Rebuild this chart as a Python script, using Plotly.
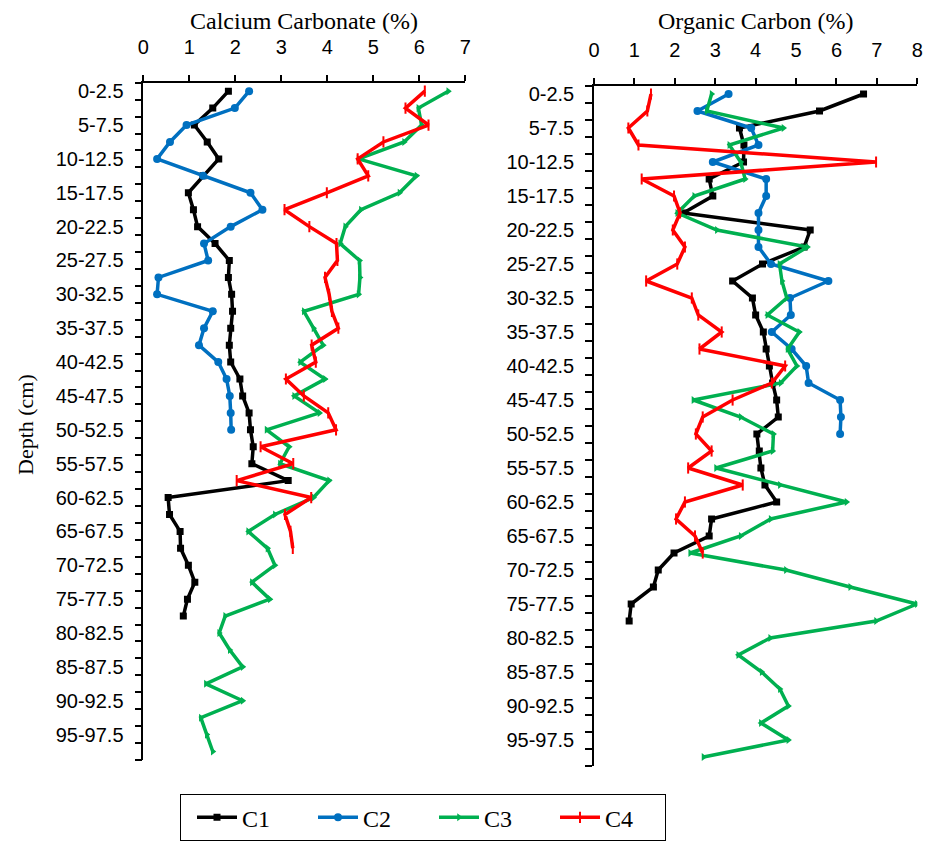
import plotly.graph_objects as go

depths = [f"{a:g}-{a + 2.5:g}" for a in [i * 2.5 for i in range(40)]]
depth_ticktext = [d if i % 2 == 0 else "" for i, d in enumerate(depths)]

# Calcium carbonate (%)
caco3_c1 = [1.85, 1.51, 1.11, 1.39, 1.64, 1.30, 0.98, 1.09, 1.18, 1.56, 1.87, 1.85, 1.92,
            1.94, 1.90, 1.87, 1.90, 2.10, 2.16, 2.30, 2.33, 2.39, 2.36, 3.15, 0.54, 0.57,
            0.80, 0.81, 0.98, 1.12, 0.96, 0.87]
caco3_c2 = [2.30, 1.99, 0.94, 0.58, 0.30, 1.30, 2.33, 2.59, 1.90, 1.32, 1.41, 0.33, 0.30,
            1.51, 1.32, 1.21, 1.63, 1.81, 1.88, 1.90, 1.91]
caco3_c3 = [6.63, 5.98, 6.05, 5.67, 4.68, 5.94, 5.57, 4.73, 4.39, 4.28, 4.70, 4.71, 4.68,
            3.49, 3.70, 3.91, 3.41, 3.95, 3.28, 3.83, 2.68, 3.17, 2.97, 4.04, 3.70, 2.86,
            2.28, 2.70, 2.86, 2.36, 2.75, 1.78, 1.65, 1.88, 2.16, 1.36, 2.16, 1.25, 1.38, 1.51]
caco3_c4 = [6.12, 5.70, 6.20, 5.22, 4.66, 4.89, 3.99, 3.07, 3.61, 4.20, 4.22, 3.95, 4.04,
            4.10, 4.24, 3.66, 3.75, 3.10, 3.49, 4.02, 4.19, 2.55, 3.26, 2.03, 3.65, 3.08,
            3.20, 3.25]

# Organic carbon (%)
oc_c1 = [6.67, 5.58, 3.60, 3.71, 3.70, 2.85, 2.94, 2.21, 5.35, 5.20, 4.17, 3.43, 3.92,
         4.00, 4.19, 4.26, 4.34, 4.42, 4.52, 4.56, 4.03, 4.09, 4.13, 4.23, 4.52, 2.91,
         2.85, 1.98, 1.59, 1.47, 0.92, 0.87]
oc_c2 = [3.33, 2.56, 3.89, 4.07, 2.94, 4.26, 4.26, 4.07, 4.07, 4.07, 4.38, 5.80, 4.85,
         4.87, 4.40, 4.89, 5.25, 5.31, 6.09, 6.11, 6.09]
oc_c3 = [2.91, 2.79, 4.69, 3.35, 3.63, 3.74, 2.48, 2.06, 3.04, 5.28, 4.59, 4.65, 4.77,
         4.29, 5.08, 4.79, 5.02, 4.62, 2.46, 3.63, 4.44, 4.42, 3.02, 4.60, 6.25, 4.37,
         3.63, 2.38, 4.75, 6.34, 7.99, 6.98, 4.36, 3.57, 4.15, 4.60, 4.81, 4.13, 4.81, 2.71]
oc_c4 = [1.41, 1.32, 0.85, 1.10, 6.98, 1.18, 1.98, 2.13, 1.95, 2.25, 2.06, 1.29, 2.42,
         2.58, 3.16, 2.61, 4.73, 4.40, 3.43, 2.69, 2.52, 2.91, 2.33, 3.68, 2.25, 2.03,
         2.50, 2.69]

series_names = ["C1", "C2", "C3", "C4"]
colors = ["#000000", "#0070C0", "#00B050", "#FF0000"]
markers = [dict(symbol="square", size=7),
           dict(symbol="circle", size=8),
           dict(symbol="triangle-right", size=7),
           dict(symbol="line-ns", size=8, line=dict(width=2))]

# page body has an 8px default margin; figure sized to fit the window
OFF = 8
W, H = 931 - 2 * OFF, 849 - 2 * OFF


def px(x):
    return (x - OFF) / W


def py(y):
    return 1 - (y - OFF) / H


fig = go.Figure()

left_data = [caco3_c1, caco3_c2, caco3_c3, caco3_c4]
right_data = [oc_c1, oc_c2, oc_c3, oc_c4]

for name, col, mk, vals in zip(series_names, colors, markers, left_data):
    m = dict(mk, color=col)
    if "line" in m:
        m["line"] = dict(m["line"], color=col)
    fig.add_trace(go.Scatter(x=vals, y=depths[:len(vals)], mode="lines+markers", name=name,
                             line=dict(color=col, width=3.5), marker=m,
                             legendgroup=name, showlegend=True, xaxis="x", yaxis="y"))
for name, col, mk, vals in zip(series_names, colors, markers, right_data):
    m = dict(mk, color=col)
    if "line" in m:
        m["line"] = dict(m["line"], color=col)
    fig.add_trace(go.Scatter(x=vals, y=depths[:len(vals)], mode="lines+markers", name=name,
                             line=dict(color=col, width=3.5), marker=m,
                             legendgroup=name, showlegend=False, xaxis="x2", yaxis="y2"))

tickfont = dict(family="Liberation Sans", size=20, color="#000000")
xcommon = dict(side="top", ticks="outside", ticklen=6, tickwidth=1.5, tickcolor="#000",
               showline=True, linecolor="#000", linewidth=1.5, showgrid=False, zeroline=False,
               dtick=1, tick0=0, tickfont=tickfont, ticklabelstandoff=13, automargin=False)
ycommon = dict(type="category", categoryorder="array", categoryarray=depths,
               range=[39.5, -0.5], tickmode="array", tickvals=depths, ticktext=depth_ticktext,
               tickson="boundaries", ticks="outside", ticklen=7, tickwidth=1.5, tickcolor="#000",
               showline=True, linecolor="#000", linewidth=1.5, showgrid=False, zeroline=False,
               tickfont=tickfont, ticklabelstandoff=14, automargin=False)

fig.update_layout(
    width=W, height=H,
    margin=dict(l=0, r=0, t=0, b=0, autoexpand=False),
    paper_bgcolor="white", plot_bgcolor="white",
    xaxis=dict(xcommon, domain=[px(143.3), px(465.3)], range=[0, 7], anchor="y"),
    yaxis=dict(ycommon, domain=[py(760), py(82.7)], anchor="x"),
    xaxis2=dict(xcommon, domain=[px(594), px(917.3)], range=[0, 8], anchor="y2"),
    yaxis2=dict(ycommon, domain=[py(765.5), py(85.5)], anchor="x2"),
    legend=dict(orientation="h", x=px(180), y=py(794), xanchor="left", yanchor="top",
                bordercolor="#000", borderwidth=1.2, bgcolor="white",
                font=dict(family="Liberation Serif", size=24, color="#000"),
                entrywidth=54, entrywidthmode="pixels", itemwidth=40, indentation=12),
    annotations=[
        dict(text="Calcium Carbonate (%)", x=px(304), y=py(21), xref="paper", yref="paper",
             xanchor="center", yanchor="middle", showarrow=False,
             font=dict(family="Liberation Serif", size=24, color="#000")),
        dict(text="Organic Carbon (%)", x=px(756), y=py(21), xref="paper", yref="paper",
             xanchor="center", yanchor="middle", showarrow=False,
             font=dict(family="Liberation Serif", size=24, color="#000")),
        dict(text="Depth (cm)", x=px(25), y=py(425), xref="paper", yref="paper",
             xanchor="center", yanchor="middle", showarrow=False, textangle=-90,
             font=dict(family="Liberation Serif", size=22, color="#000")),
    ],
)

fig.write_html("out.html")
